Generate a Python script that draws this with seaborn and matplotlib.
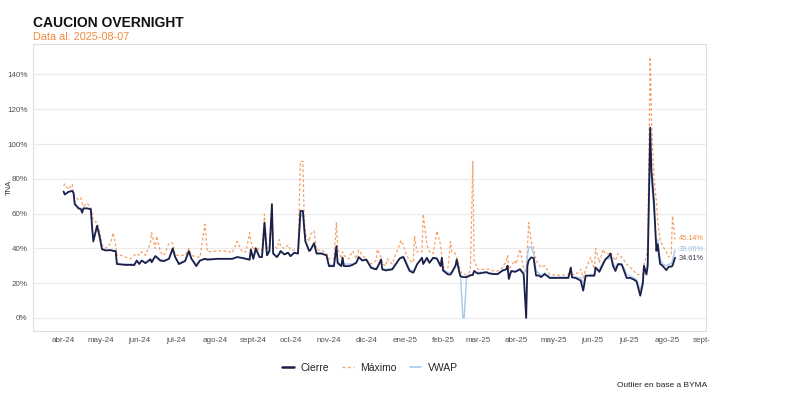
import pandas as pd
import numpy as np
import matplotlib
matplotlib.use("Agg")
import matplotlib.pyplot as plt
import seaborn as sns
from matplotlib.lines import Line2D
from matplotlib.transforms import Bbox, TransformedBbox, IdentityTransform

# ---------------- data (TNA, %) ----------------
fechas = [
    "2024-04-01", "2024-04-02", "2024-04-05", "2024-04-08", "2024-04-09", "2024-04-10", "2024-04-13",
    "2024-04-15", "2024-04-16", "2024-04-17", "2024-04-20", "2024-04-23", "2024-04-24", "2024-04-25",
    "2024-04-27", "2024-04-28", "2024-04-30", "2024-05-02", "2024-05-05", "2024-05-09", "2024-05-11",
    "2024-05-13", "2024-05-14", "2024-05-17", "2024-05-21", "2024-05-25", "2024-05-28", "2024-05-30",
    "2024-06-01", "2024-06-03", "2024-06-06", "2024-06-10", "2024-06-11", "2024-06-14", "2024-06-15",
    "2024-06-18", "2024-06-21", "2024-06-25", "2024-06-28", "2024-06-30", "2024-07-03", "2024-07-08",
    "2024-07-11", "2024-07-13", "2024-07-17", "2024-07-20", "2024-07-24", "2024-07-26", "2024-08-03",
    "2024-08-11", "2024-08-15", "2024-08-19", "2024-08-23", "2024-08-26", "2024-08-29", "2024-08-30",
    "2024-09-01", "2024-09-03", "2024-09-06", "2024-09-08", "2024-09-10", "2024-09-12", "2024-09-14",
    "2024-09-16", "2024-09-17", "2024-09-20", "2024-09-22", "2024-09-23", "2024-09-26", "2024-09-29",
    "2024-10-01", "2024-10-04", "2024-10-07", "2024-10-09", "2024-10-11", "2024-10-12", "2024-10-13",
    "2024-10-16", "2024-10-17", "2024-10-20", "2024-10-22", "2024-10-26", "2024-10-30", "2024-11-01",
    "2024-11-05", "2024-11-07", "2024-11-08", "2024-11-11", "2024-11-12", "2024-11-13", "2024-11-17",
    "2024-11-20", "2024-11-23", "2024-11-25", "2024-11-28", "2024-12-01", "2024-12-05", "2024-12-09",
    "2024-12-10", "2024-12-13", "2024-12-14", "2024-12-17", "2024-12-18", "2024-12-22", "2024-12-25",
    "2024-12-28", "2024-12-29", "2024-12-31", "2025-01-02", "2025-01-05", "2025-01-08", "2025-01-09",
    "2025-01-11", "2025-01-15", "2025-01-16", "2025-01-19", "2025-01-21", "2025-01-24", "2025-01-27",
    "2025-01-30", "2025-01-31", "2025-02-01", "2025-02-05", "2025-02-07", "2025-02-08", "2025-02-11",
    "2025-02-12", "2025-02-14", "2025-02-15", "2025-02-17", "2025-02-18", "2025-02-20", "2025-02-23",
    "2025-02-25", "2025-02-26", "2025-03-01", "2025-03-08", "2025-03-10", "2025-03-14", "2025-03-17",
    "2025-03-21", "2025-03-24", "2025-03-25", "2025-03-26", "2025-03-28", "2025-03-31", "2025-04-01",
    "2025-04-04", "2025-04-07", "2025-04-09", "2025-04-10", "2025-04-11", "2025-04-13", "2025-04-15",
    "2025-04-17", "2025-04-19", "2025-04-21", "2025-04-24", "2025-04-28", "2025-05-06", "2025-05-13",
    "2025-05-15", "2025-05-16", "2025-05-19", "2025-05-23", "2025-05-25", "2025-05-27", "2025-05-30",
    "2025-05-31", "2025-06-03", "2025-06-04", "2025-06-07", "2025-06-10", "2025-06-12", "2025-06-15",
    "2025-06-16", "2025-06-18", "2025-06-20", "2025-06-22", "2025-06-25", "2025-06-27", "2025-06-29",
    "2025-07-02", "2025-07-05", "2025-07-07", "2025-07-10", "2025-07-12", "2025-07-13", "2025-07-15",
    "2025-07-16", "2025-07-18", "2025-07-19", "2025-07-21", "2025-07-23", "2025-07-24", "2025-07-26",
    "2025-07-28", "2025-07-31", "2025-08-02", "2025-08-04", "2025-08-05", "2025-08-07",
]

cierre = [
    72.7, 71, 72.5, 73, 72, 65.5, 63, 62.5, 60.5, 63, 63, 62.5, 52, 44,
    50, 53, 47, 39.5, 38.8, 39, 38.5, 38.5, 31, 30.8, 30.5, 30.5, 30.4, 33,
    31, 33, 31.5, 33.7, 32, 35.6, 35, 33, 32.7, 34, 40, 35, 31, 32.7,
    38.5, 34.2, 29.8, 33, 34, 33.5, 34, 34, 34, 35, 34.5, 34, 33.5, 39.4,
    34, 40, 35, 35, 54.8, 36, 38.5, 65.4, 37, 35, 37, 38.5, 36.5, 37.5,
    35.5, 37.5, 37, 61.5, 61.5, 52, 44, 38.5, 39, 43, 37, 37, 36, 29.8,
    29.8, 41.3, 31.5, 29.8, 34.6, 29.8, 29.8, 30.5, 31.7, 35, 33, 33.6, 28.8, 27.9,
    29, 33.6, 27.9, 27.3, 27.5, 27.9, 31, 34.2, 34.5, 35, 31.7, 27, 26, 27.5,
    30.8, 34.6, 31, 34.6, 31.7, 34.6, 34.2, 29.8, 34.6, 27.3, 25, 25, 26, 30,
    33.6, 26.5, 24, 23.5, 23.5, 23.5, 24.5, 24.7, 27, 25.5, 26.3, 25.6, 25.2, 25.2,
    27.3, 28, 30, 22.4, 27, 26.5, 26.8, 28, 25.2, 0, 30, 33, 34.8, 34.4,
    24.3, 24.5, 23.5, 25.2, 23, 23, 23, 29, 23.3, 23, 21.4, 15.7, 24.3, 24.3,
    24.3, 24.3, 29, 26.5, 31, 33.8, 35.8, 37, 30, 27, 31, 30.8, 27, 23,
    23, 22, 21, 12.8, 19.5, 30, 25, 30, 109.4, 85, 67, 38.6, 42.4, 31,
    30, 27.5, 29.5, 29.5, 30, 34.61,
]

maximo = [
    76, 77, 74, 77, 72.5, 70, 68, 69, 66, 64, 66, 63, 60, 56,
    55, 55, 50, 42, 40, 43, 49, 42, 36, 36, 35, 34, 36, 37,
    36, 38, 36, 43, 49, 40, 47, 38, 36, 43, 43, 36, 36, 36,
    40, 36, 35, 35, 53.8, 38, 38.5, 38.5, 37.5, 44, 38, 38, 49, 44,
    39, 41, 39, 39, 59.6, 40, 41, 65.4, 42, 40, 45, 41, 40, 42,
    39, 39, 39, 90, 90, 57.7, 48, 44, 48, 50, 39, 39, 37, 34,
    34, 54.8, 40, 34, 38, 36, 34, 38.5, 34, 39, 36, 34, 31, 33,
    39.4, 35, 31, 30, 34, 31, 37, 42, 44.6, 42, 37, 33, 32, 47,
    38, 38, 59.6, 42, 38, 37, 50, 42, 35, 29, 29, 44, 38, 37,
    35, 30, 27, 25, 25, 25, 27, 90, 33, 28, 28, 28, 27, 27,
    29, 33, 35.8, 28, 30, 33, 31, 39.6, 28, 27, 40, 54.9, 44, 40,
    33, 31, 29, 30, 25, 24.5, 25, 29, 25, 25, 28, 23, 28, 33,
    34.8, 28, 40, 32, 39.4, 37, 37, 38, 35, 33, 37, 35, 33, 31,
    29, 27, 25, 25, 25, 31, 35, 42.4, 150, 115, 80.7, 67, 55.8, 45,
    41.5, 38, 35, 37, 58.7, 45.14,
]

vwap = [
    72, 71, 72.5, 73, 72, 66, 63.5, 63, 61, 63, 63, 62.5, 53, 45,
    50, 52, 47, 40, 39, 39, 39, 38.5, 31.5, 31, 31, 31, 31, 33,
    31.5, 33, 32, 34, 33, 35.5, 35, 33.5, 33, 34, 39, 35, 31.5, 33,
    38, 34, 31, 33, 34, 34, 34, 34, 34, 35, 34.5, 34, 34, 38,
    34, 39, 35, 35, 50, 36, 38, 60, 37, 35, 37, 38, 37, 37.5,
    36, 37.5, 37, 58, 60, 50, 44, 39, 39.5, 42, 37.5, 37.5, 36, 30.5,
    30.5, 40, 32, 31, 34, 31, 31, 31, 32, 34.5, 33, 33.5, 29.5, 28.5,
    29.5, 32, 28.5, 28, 28, 28.5, 31.5, 34, 35, 35.5, 33, 28, 27, 28,
    31, 34, 32, 34, 32, 34, 34, 30, 33, 28, 26, 26, 27, 30,
    32, 27, 25, 0, 0, 24, 25, 25, 27, 26, 26.5, 26, 25.5, 25.5,
    27, 28, 30, 25, 27, 27, 27, 28, 26, 27, 35, 40.5, 41, 37,
    27, 26, 24.5, 26, 23.5, 23.5, 23.5, 26, 23.5, 23.5, 23, 20, 24.5, 24.5,
    25, 25, 28, 28, 32, 34, 34, 35, 32, 29, 30, 31, 28.5, 25,
    24, 23, 22, 16, 22, 26, 28, 33, 100, 78, 62, 42, 45, 34,
    31, 30, 31, 31, 33, 39.06,
]

series_names = ["Cierre", "Máximo", "VWAP"]
meses = ["ene", "feb", "mar", "abr", "may", "jun", "jul", "ago", "sept", "oct", "nov", "dic"]
y_ticks = [0, 20, 40, 60, 80, 100, 120, 140]

titulo = "CAUCION OVERNIGHT"
subtitulo = "Data al: 2025-08-07"
caption = "Outlier en base a BYMA"
y_label = "TNA"

# ---------------- styling ----------------
c_cierre = "#1c1f4a"
c_max = "#f5a26a"
c_vwap = "#a9c9ea"
c_max_lbl = "#f08a3c"
c_vwap_lbl = "#9cc2e6"
c_cierre_lbl = "#3a3a4a"

sns.set_style("white")
plt.rcParams["font.family"] = ["Liberation Sans", "DejaVu Sans"]

df = pd.DataFrame({
    "fecha": pd.to_datetime(fechas),
    "Cierre": cierre,
    "Máximo": maximo,
    "VWAP": vwap,
})

W, H = 800, 396
fig = plt.figure(figsize=(W / 100, H / 100), dpi=100)
L, R, T, B = 33, 706, 44, 331
ax = fig.add_axes([L / W, 1 - B / H, (R - L) / W, (B - T) / H])

sns.lineplot(data=df, x="fecha", y="Máximo", ax=ax, color=c_max, lw=0.9,
             linestyle=(0, (2.2, 1.8)), legend=False, zorder=2)
sns.lineplot(data=df, x="fecha", y="VWAP", ax=ax, color=c_vwap, lw=1.0, legend=False, zorder=3)
sns.lineplot(data=df, x="fecha", y="Cierre", ax=ax, color=c_cierre, lw=1.3, legend=False, zorder=4)

# limits (ggplot-like 5% expansion)
dmin, dmax = df["fecha"].min(), df["fecha"].max()
pad = (dmax - dmin) * 0.05
ax.set_xlim(dmin - pad, dmax + pad)
ax.set_ylim(-7.5, 157.5)

# ticks
xt = pd.date_range("2024-04-01", "2025-09-01", freq="MS")
ax.set_xticks(xt)
ax.set_xticklabels([f"{meses[d.month - 1]}-{d.strftime('%y')}" for d in xt])
ax.set_yticks(y_ticks)
ax.set_yticklabels([f"{v}%" for v in y_ticks])
ax.tick_params(axis="both", length=0, labelsize=5.8, labelcolor="#505050", pad=4)
ax.set_xlabel("")
ax.set_ylabel("")
fig.text(9 / W, 1 - ((T + B) / 2) / H, y_label, rotation=90, fontsize=5.5, color="#333333",
         ha="center", va="center")

ax.grid(axis="y", color="#ebebeb", lw=0.8)
ax.grid(axis="x", visible=False)
ax.set_axisbelow(True)
for s in ax.spines.values():
    s.set_visible(True)
    s.set_color("#dedede")
    s.set_linewidth(0.8)

# end labels
last = df.iloc[-1]
lx = last["fecha"] + pd.Timedelta(days=3)
ax.text(lx, 45.14 + 0.6, f"{maximo[-1]:.2f}%", color=c_max_lbl, fontsize=5.3, va="center", ha="left", zorder=5)
ax.text(lx, 39.06 + 0.3, f"{vwap[-1]:.2f}%", color=c_vwap_lbl, fontsize=5.3, va="center", ha="left", zorder=5)
ax.text(lx, 34.61 - 0.6, f"{cierre[-1]:.2f}%", color=c_cierre_lbl, fontsize=5.3, va="center", ha="left", zorder=5)

# titles
fig.text(L / W, 1 - 27 / H, titulo, fontsize=10, fontweight="bold", color="#111111", va="baseline", ha="left")
fig.text(L / W, 1 - 40 / H, subtitulo, fontsize=7.8, color=c_max_lbl, va="baseline", ha="left")

# legend
handles = [
    Line2D([0], [0], color=c_cierre, lw=1.8),
    Line2D([0], [0], color=c_max, lw=1.0, linestyle=(0, (2, 2))),
    Line2D([0], [0], color=c_vwap, lw=1.2),
]
fig.legend(handles, series_names, loc="center", bbox_to_anchor=(370 / W, 1 - 368 / H), ncol=3,
           frameon=False, fontsize=7.5, handlelength=1.1, handletextpad=0.6, columnspacing=1.3)

fig.text(707 / W, 1 - 387 / H, caption, fontsize=6, color="#222222", ha="right", va="baseline")

# clip x tick labels at the image's visible edge (last label is cut in reference)
clipbox = TransformedBbox(Bbox.from_extents(0, 0, 710, H), IdentityTransform())
for lbl in ax.get_xticklabels():
    lbl.set_clip_on(True)
    lbl.set_clip_box(clipbox)

fig.savefig("out.png", dpi=100)
